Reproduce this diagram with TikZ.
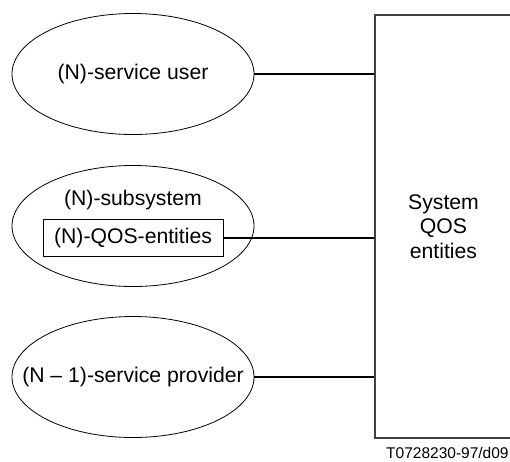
\documentclass[tikz,border=0pt]{standalone}
\usepackage{fontspec}
\setmainfont{Liberation Sans}
\usetikzlibrary{shapes.geometric}
\begin{document}
\begin{tikzpicture}[x=1pt,y=-1pt,
  every node/.style={font=\fontsize{21.2}{24.5}\selectfont, inner sep=0pt},
  oval/.style={draw, ellipse, line width=0.8pt, minimum width=242pt, minimum height=121pt},
  qosbox/.style={draw, line width=0.8pt, minimum width=180pt, minimum height=37pt},
  sysbox/.style={draw=black!75, line width=1.3pt, minimum width=137pt, minimum height=423pt, align=center},
  link/.style={line width=1.3pt}]
  \useasboundingbox (0,0) rectangle (510,461);
  % system block on the right, its right side runs off the page
  \node[sysbox] (sys) at (443.5,226.5) {System\\QOS\\entities};
  % the three layers on the left (outlines first, texts on top)
  \node[oval] (user) at (133,74) {};
  \node (username) at (user) {(N)-service user};
  \node[oval] (sub) at (133,226) {};
  \node (subname) at (133,200) {(N)-subsystem};
  \node[qosbox] (qos) at (133,238) {(N)-QOS-entities};
  \node[oval] (prov) at (133,377) {};
  \node (provname) at (prov) {(N -- 1)-service provider};
  % links to the system block
  \draw[link] (user.east) -- (user.east -| sys.west);
  \draw[link] (qos.east) -- (qos.east -| sys.west);
  \draw[link] (prov.east) -- (prov.east -| sys.west);
  % figure reference
  \node[font=\fontsize{15.5}{18}\selectfont, anchor=north west] (ref) at (386,447) {T0728230-97/d09};
\end{tikzpicture}
\end{document}
